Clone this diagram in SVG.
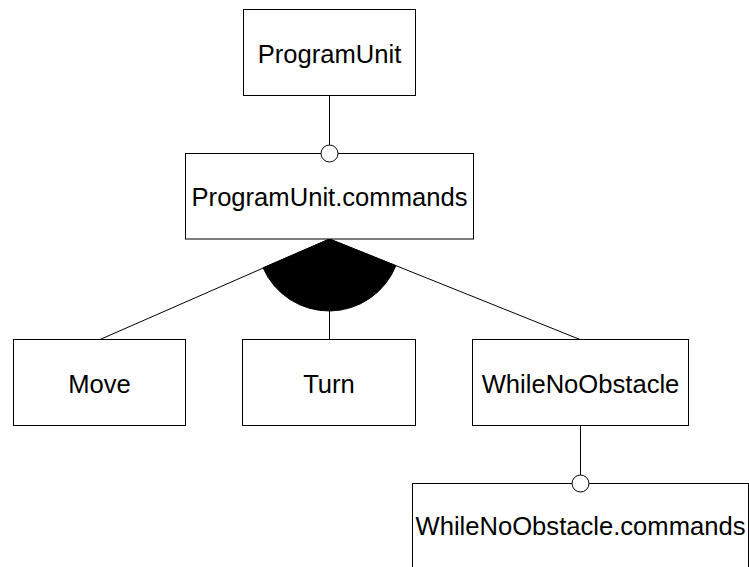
<svg xmlns="http://www.w3.org/2000/svg" width="749" height="567" viewBox="0 0 749 567">
<style>
.box{fill:#fff;stroke:#000;stroke-width:1}
.lbl{font-family:"Liberation Sans",Arial,sans-serif;font-size:25.6px;fill:#000;text-anchor:middle}
.ln{stroke:#000;stroke-width:1;fill:none}
.opt{fill:#fff;stroke:#000;stroke-width:1}
</style>
<rect width="749" height="567" fill="#fff"/>
<g id="connectors">
<line class="ln" x1="329.5" y1="95.5" x2="329.5" y2="146"/>
<line class="ln" x1="329.5" y1="239" x2="100" y2="339.5"/>
<line class="ln" x1="329.5" y1="239" x2="580" y2="339.5"/>
<line class="ln" x1="329.5" y1="300" x2="329.5" y2="339.5"/>
<path d="M329.5,239 L263.02,267.81 A72,72 0 0,0 395.89,265.65 Z" fill="#000" stroke="#000" stroke-width="1"/>
<line class="ln" x1="580.5" y1="425.5" x2="580.5" y2="475"/>
</g>
<g id="ProgramUnit">
<rect class="box" x="243.5" y="9.5" width="172" height="86"/>
<text class="lbl" x="329.5" y="63">ProgramUnit</text>
</g>
<g id="ProgramUnit.commands">
<rect class="box" x="185.5" y="153.5" width="288" height="85.5"/>
<text class="lbl" x="329.5" y="206">ProgramUnit.commands</text>
</g>
<g id="Move">
<rect class="box" x="13.5" y="339.5" width="172" height="86"/>
<text class="lbl" x="99.5" y="393">Move</text>
</g>
<g id="Turn">
<rect class="box" x="242.5" y="339.5" width="173" height="86"/>
<text class="lbl" x="329" y="393">Turn</text>
</g>
<g id="WhileNoObstacle">
<rect class="box" x="472.5" y="339.5" width="216" height="86"/>
<text class="lbl" x="580.5" y="393">WhileNoObstacle</text>
</g>
<g id="WhileNoObstacle.commands">
<rect class="box" x="412.5" y="483.5" width="336" height="86"/>
<text class="lbl" x="580.5" y="535">WhileNoObstacle.commands</text>
</g>
<g id="optional-markers">
<circle class="opt" cx="329.5" cy="153.5" r="8.5"/>
<circle class="opt" cx="580.5" cy="483.5" r="8.5"/>
</g>
</svg>
